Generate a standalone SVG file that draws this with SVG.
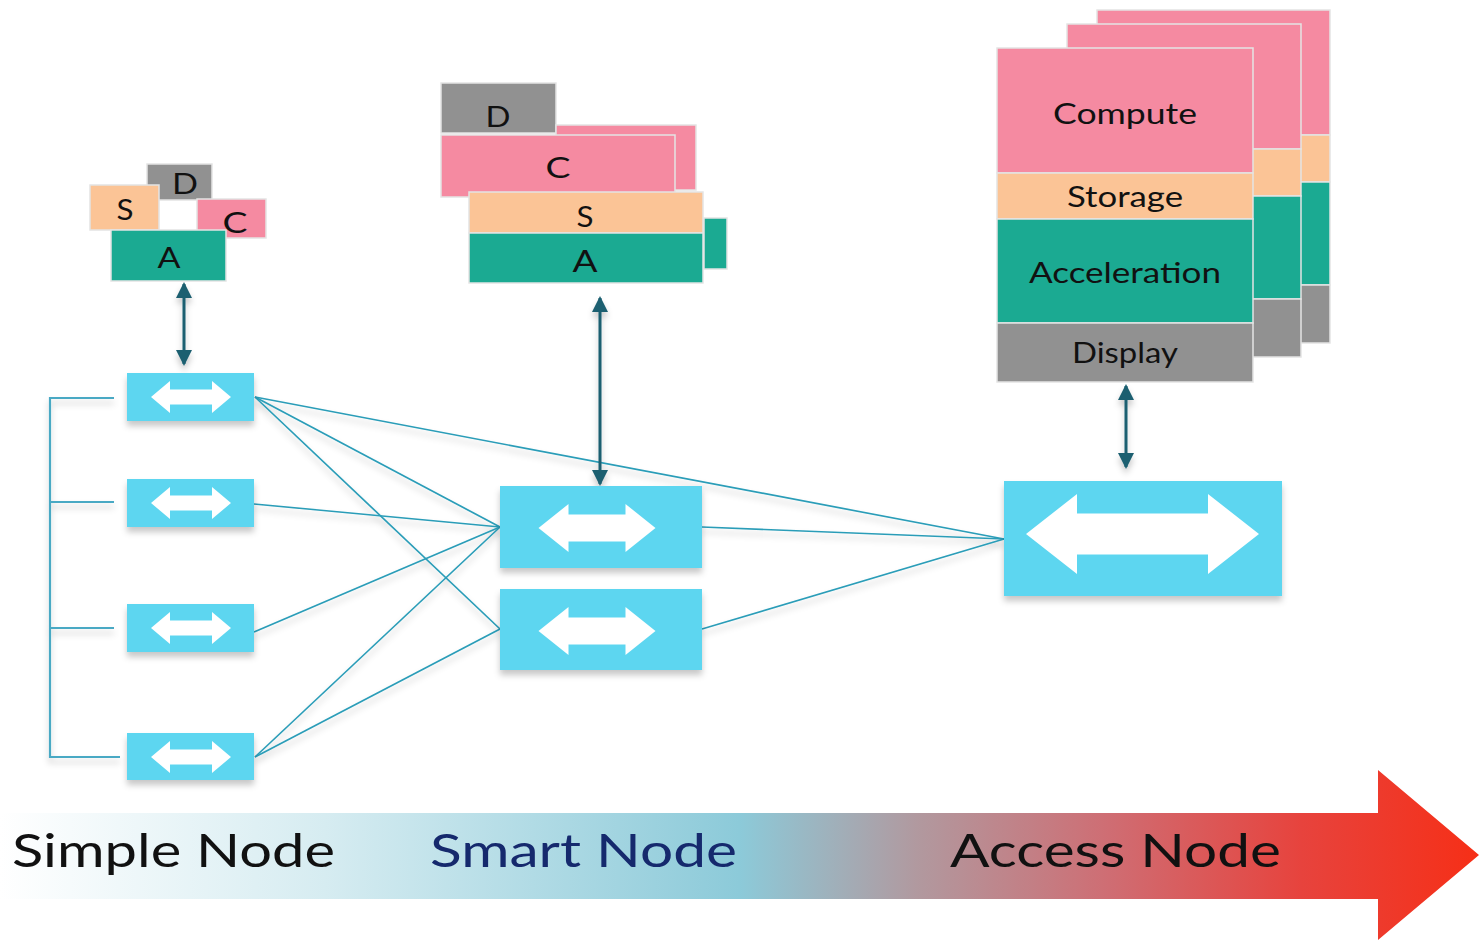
<svg xmlns="http://www.w3.org/2000/svg" width="1479" height="940" viewBox="0 0 1479 940">
  <defs>
    <style>
      .pink { fill: #f58aa1; }
      .peach { fill: #fbc496; }
      .teal { fill: #1baa92; }
      .gray { fill: #919191; }
      .blk { stroke: #e4e4e4; stroke-width: 1.5; }
      .sw { fill: #5dd6f0; }
      .arr { fill: #ffffff; }
      .lbl { font-family: "Lato", "Open Sans", "Liberation Sans", sans-serif; fill: #111111; text-anchor: middle; }
      .lnk { stroke: #2b9db8; stroke-width: 1.7; fill: none; }
      .brk { stroke: #4aa9c4; stroke-width: 2.2; fill: none; }
      .io { stroke: #1b5f70; stroke-width: 3; fill: none; marker-start: url(#tip); marker-end: url(#tip); }
      .band { font-family: "Lato", "Open Sans", "Liberation Sans", sans-serif; font-size: 47px; }
    </style>
    <filter id="shadow" x="-20%" y="-20%" width="140%" height="160%">
      <feDropShadow dx="0" dy="5" stdDeviation="3" flood-color="#000000" flood-opacity="0.22"/>
    </filter>
    <marker id="tip" viewBox="0 0 16 16" refX="14" refY="8" markerWidth="16" markerHeight="16" markerUnits="userSpaceOnUse" orient="auto-start-reverse">
      <path d="M0 0 L16 8 L0 16 z" fill="#1b5f70"/>
    </marker>
    <linearGradient id="progress" gradientUnits="userSpaceOnUse" x1="0" y1="0" x2="1479" y2="0">
      <stop offset="0" stop-color="#ffffff"/>
      <stop offset="0.22" stop-color="#d6ecf1"/>
      <stop offset="0.5" stop-color="#8ccad9"/>
      <stop offset="0.62" stop-color="#b1999f"/>
      <stop offset="0.75" stop-color="#cf6d73"/>
      <stop offset="0.88" stop-color="#e7433d"/>
      <stop offset="1" stop-color="#f62f17"/>
    </linearGradient>
    <!-- double-headed arrow glyphs, centred on the origin -->
    <path id="arrS" d="M-40 0 l19 -16 v8.5 h42 v-8.5 l19 16 l-19 16 v-8.5 h-42 v8.5z"/>
    <path id="arrM" d="M-58.5 0 l30 -24 v10.5 h57 v-10.5 l30 24 l-30 24 v-10.5 h-57 v10.5z"/>
    <path id="arrL" d="M-116.5 0 l51 -40 v19.5 h131 v-19.5 l51 40 l-51 40 v-19.5 h-131 v19.5z"/>
  </defs>

  <rect width="1479" height="940" fill="#ffffff"/>

  <!-- progression band -->
  <g id="progress-band">
    <path d="M0 813 H1378 V770 L1479 855 L1378 940 V899 H0 z" fill="url(#progress)"/>
    <text class="band" x="12" y="867" textLength="323" lengthAdjust="spacingAndGlyphs" fill="#111111">Simple Node</text>
    <text class="band" x="430" y="867" textLength="307" lengthAdjust="spacingAndGlyphs" fill="#15296d">Smart Node</text>
    <text class="band" x="950" y="867" textLength="331" lengthAdjust="spacingAndGlyphs" fill="#111111">Access Node</text>
  </g>

  <!-- connectors -->
  <g id="connectors" filter="url(#shadow)">
    <path class="brk" d="M114 398 H50 V757 H120 M50 502 H114 M50 628 H114"/>
    <line class="lnk" x1="255" y1="397" x2="1004" y2="539"/>
    <line class="lnk" x1="255" y1="397" x2="500" y2="527"/>
    <line class="lnk" x1="255" y1="397" x2="500" y2="629"/>
    <line class="lnk" x1="254" y1="504" x2="500" y2="527"/>
    <line class="lnk" x1="254" y1="632" x2="500" y2="527"/>
    <line class="lnk" x1="255" y1="757" x2="500" y2="527"/>
    <line class="lnk" x1="255" y1="757" x2="500" y2="629"/>
    <line class="lnk" x1="702" y1="527" x2="1004" y2="539"/>
    <line class="lnk" x1="702" y1="629" x2="1004" y2="539"/>
    <line class="io" x1="184" y1="284" x2="184" y2="364"/>
    <line class="io" x1="600" y1="298" x2="600" y2="484"/>
    <line class="io" x1="1126" y1="386" x2="1126" y2="467"/>
  </g>

  <!-- simple node -->
  <g id="simple-node">
    <rect class="gray blk" x="147" y="164" width="65" height="36"/>
    <rect class="peach blk" x="90" y="185" width="69" height="45"/>
    <rect class="pink blk" x="197" y="199" width="69" height="39"/>
    <rect class="teal blk" x="111" y="230" width="115" height="51"/>
    <text class="lbl" x="185" y="194" font-size="28" textLength="26" lengthAdjust="spacingAndGlyphs">D</text>
    <text class="lbl" x="125" y="220" font-size="28" textLength="17" lengthAdjust="spacingAndGlyphs">S</text>
    <text class="lbl" x="235" y="233" font-size="28" textLength="25" lengthAdjust="spacingAndGlyphs">C</text>
    <text class="lbl" x="169" y="268" font-size="29" textLength="23" lengthAdjust="spacingAndGlyphs">A</text>
  </g>

  <!-- smart node -->
  <g id="smart-node">
    <rect class="gray blk" x="441" y="83" width="115" height="50"/>
    <rect class="pink blk" x="556" y="125" width="140" height="65"/>
    <rect class="pink blk" x="441" y="135" width="234" height="62"/>
    <rect class="teal blk" x="704" y="218" width="23" height="51"/>
    <rect class="peach blk" x="469" y="192" width="234" height="41"/>
    <rect class="teal blk" x="469" y="233" width="234" height="50"/>
    <text class="lbl" x="498" y="127" font-size="29" textLength="25" lengthAdjust="spacingAndGlyphs">D</text>
    <text class="lbl" x="558" y="178" font-size="29" textLength="25" lengthAdjust="spacingAndGlyphs">C</text>
    <text class="lbl" x="585" y="227" font-size="29" textLength="17" lengthAdjust="spacingAndGlyphs">S</text>
    <text class="lbl" x="585" y="272" font-size="30" textLength="25" lengthAdjust="spacingAndGlyphs">A</text>
  </g>

  <!-- access node -->
  <g id="access-node">
    <g id="access-card-3">
      <rect class="pink blk" x="1097" y="10" width="233" height="125"/>
      <rect class="peach blk" x="1097" y="135" width="233" height="47"/>
      <rect class="teal blk" x="1097" y="182" width="233" height="103"/>
      <rect class="gray blk" x="1097" y="285" width="233" height="58"/>
    </g>
    <g id="access-card-2">
      <rect class="pink blk" x="1067" y="24" width="234" height="125"/>
      <rect class="peach blk" x="1067" y="149" width="234" height="47"/>
      <rect class="teal blk" x="1067" y="196" width="234" height="103"/>
      <rect class="gray blk" x="1067" y="299" width="234" height="58"/>
    </g>
    <g id="access-card-1">
      <rect class="pink blk" x="997" y="48" width="256" height="125"/>
      <rect class="peach blk" x="997" y="173" width="256" height="46"/>
      <rect class="teal blk" x="997" y="219" width="256" height="104"/>
      <rect class="gray blk" x="997" y="323" width="256" height="59"/>
      <text class="lbl" x="1125" y="124" font-size="29" textLength="144" lengthAdjust="spacingAndGlyphs">Compute</text>
      <text class="lbl" x="1125" y="207" font-size="29" textLength="116" lengthAdjust="spacingAndGlyphs">Storage</text>
      <text class="lbl" x="1125" y="283" font-size="29" textLength="192" lengthAdjust="spacingAndGlyphs">Acceleration</text>
      <text class="lbl" x="1125" y="363" font-size="29" textLength="106" lengthAdjust="spacingAndGlyphs">Display</text>
    </g>
  </g>

  <!-- switches -->
  <g id="simple-switch-1" filter="url(#shadow)">
    <rect class="sw" x="127" y="373" width="127" height="48"/>
    <use href="#arrS" class="arr" transform="translate(191 397)"/>
  </g>
  <g id="simple-switch-2" filter="url(#shadow)">
    <rect class="sw" x="127" y="479" width="127" height="48"/>
    <use href="#arrS" class="arr" transform="translate(191 503)"/>
  </g>
  <g id="simple-switch-3" filter="url(#shadow)">
    <rect class="sw" x="127" y="604" width="127" height="48"/>
    <use href="#arrS" class="arr" transform="translate(191 628)"/>
  </g>
  <g id="simple-switch-4" filter="url(#shadow)">
    <rect class="sw" x="127" y="733" width="127" height="47"/>
    <use href="#arrS" class="arr" transform="translate(191 757)"/>
  </g>
  <g id="smart-switch-1" filter="url(#shadow)">
    <rect class="sw" x="500" y="486" width="202" height="82"/>
    <use href="#arrM" class="arr" transform="translate(597 528)"/>
  </g>
  <g id="smart-switch-2" filter="url(#shadow)">
    <rect class="sw" x="500" y="589" width="202" height="81"/>
    <use href="#arrM" class="arr" transform="translate(597 631)"/>
  </g>
  <g id="access-switch" filter="url(#shadow)">
    <rect class="sw" x="1004" y="481" width="278" height="115"/>
    <use href="#arrL" class="arr" transform="translate(1142.5 534)"/>
  </g>
</svg>
